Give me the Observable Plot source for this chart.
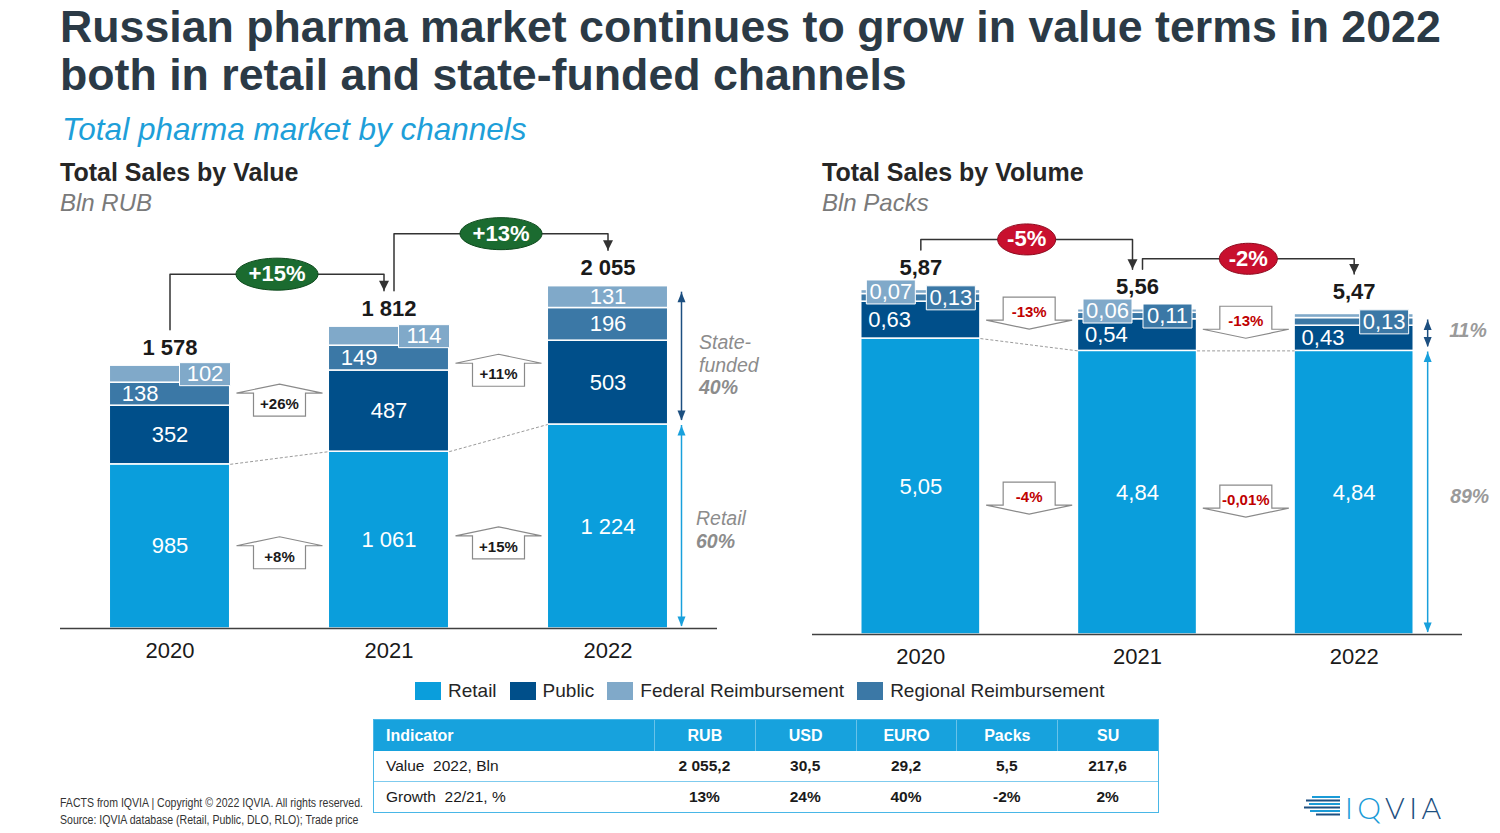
<!DOCTYPE html>
<html>
<head>
<meta charset="utf-8">
<script src="https://cdn.jsdelivr.net/npm/d3@7"></script>
<script src="https://cdn.jsdelivr.net/npm/@observablehq/plot@0.6"></script>
<style>
  html, body { margin: 0; padding: 0; background: #fff; }
  #page { position: relative; width: 1500px; height: 833px; overflow: hidden; font-family: "Liberation Sans", Arial, Helvetica, sans-serif; }
  .abs { position: absolute; white-space: nowrap; }
  #title { left: 60px; top: 3px; font-weight: bold; font-size: 44.7px; line-height: 48px; color: #2b3a46; }
  #subtitle { left: 62px; top: 114px; font-style: italic; font-size: 31.5px; line-height: 31.5px; color: #1e9fd9; }
  .panelTitle { top: 160px; font-weight: bold; font-size: 25px; line-height: 25px; color: #262626; }
  .panelUnit { top: 191px; font-style: italic; font-size: 24px; line-height: 24px; color: #7a7a7a; }
  #legend { left: 415px; top: 682px; display: flex; align-items: center; font-size: 19px; line-height: 18px; color: #262626; }
  #legend .sw { width: 26px; height: 18px; margin-right: 7px; }
  #legend .lb { margin-right: 13px; }
  #tbl { left: 373px; top: 719px; width: 784px; border: 1.5px solid #49b7e7; display: grid; grid-template-columns: 280px repeat(5, 1fr); font-size: 15.5px; color: #1a1a1a; }
  #tbl .c { display: flex; align-items: center; justify-content: center; height: 30px; }
  #tbl .c.first { justify-content: flex-start; padding-left: 12px; }
  #tbl .h { background: #17a2dd; color: #fff; font-weight: bold; font-size: 16px; height: 31px; border-left: 1px solid rgba(255,255,255,0.35); }
  #tbl .h.first { border-left: none; }
  #tbl .b { font-weight: bold; }
  #tbl .r1 { border-bottom: 1px solid #7fcbee; }
  #footer { left: 60px; top: 795px; font-family: "Liberation Sans Narrow", "Arial Narrow", "Liberation Sans", Arial, sans-serif; font-size: 12px; line-height: 17px; color: #333; transform-origin: 0 0; }
  #logoText { left: 1345px; top: 790px; font-family: Lato, "Open Sans", Inter, sans-serif; font-weight: 300; font-size: 30px; line-height: 34px; letter-spacing: 4.5px; }
</style>
</head>
<body>
<div id="page">
  <div id="title" class="abs">Russian pharma market continues to grow in value terms in 2022<br>both in retail and state-funded channels</div>
  <div id="subtitle" class="abs">Total pharma market by channels</div>
  <div class="abs panelTitle" style="left:60px">Total Sales by Value</div>
  <div class="abs panelUnit" style="left:60px">Bln RUB</div>
  <div class="abs panelTitle" style="left:822px">Total Sales by Volume</div>
  <div class="abs panelUnit" style="left:822px">Bln Packs</div>
  <div id="chartValue" class="abs" style="left:0px;top:220px"></div>
  <div id="chartVolume" class="abs" style="left:760px;top:220px"></div>
  <div id="legend" class="abs"></div>
  <div id="tbl" class="abs"></div>
  <div id="footer" class="abs">FACTS from IQVIA | Copyright © 2022 IQVIA. All rights reserved.<br>Source: IQVIA database (Retail, Public, DLO, RLO); Trade price</div>
  <svg class="abs" style="left:1300px;top:790px" width="44" height="34">
    <g stroke-width="2">
      <line x1="12" y1="7" x2="40" y2="7" stroke="#1a9bd7"/>
      <line x1="6" y1="10.5" x2="40" y2="10.5" stroke="#1d4f80"/>
      <line x1="9" y1="14" x2="40" y2="14" stroke="#1a9bd7"/>
      <line x1="4" y1="17.5" x2="40" y2="17.5" stroke="#1d4f80"/>
      <line x1="10" y1="21" x2="40" y2="21" stroke="#1a9bd7"/>
      <line x1="16" y1="24.5" x2="40" y2="24.5" stroke="#1d4f80"/>
    </g>
  </svg>
  <div id="logoText" class="abs"><span style="color:#1a9bd7">IQ</span><span style="color:#1d4f80">VIA</span></div>
</div>
<script>
// ---------------- data ----------------
const years = ["2020", "2021", "2022"];
const legendChannels = ["Retail", "Public", "Federal Reimbursement", "Regional Reimbursement"];
const stackOrder = ["Retail", "Public", "Regional Reimbursement", "Federal Reimbursement"];
const channelColors = ["#0a9edc", "#004f8a", "#3b78a6", "#80a9c9"]; // in stackOrder

// Total sales by value, Bln RUB
const valueRetail = [985, 1061, 1224];
const valuePublic = [352, 487, 503];
const valueRegional = [138, 149, 196];
const valueFederal = [102, 114, 131];
const valueTotals = [1578, 1812, 2055];
const valueTotalGrowth = ["+15%", "+13%"];
const valueStateGrowth = ["+26%", "+11%"];
const valueRetailGrowth = ["+8%", "+15%"];
const valueStateShare = "40%";
const valueRetailShare = "60%";

// Total sales by volume, Bln packs
const volumeRetail = [5.05, 4.84, 4.84];
const volumePublic = [0.63, 0.54, 0.43];
const volumeRegional = [0.13, 0.11, 0.13];
const volumeFederal = [0.07, 0.06, 0.07];
const volumeFederalPrinted = [true, true, false];
const volumeTotals = [5.87, 5.56, 5.47];
const volumeTotalGrowth = ["-5%", "-2%"];
const volumeStateGrowth = ["-13%", "-13%"];
const volumeRetailGrowth = ["-4%", "-0,01%"];
const volumeStateShare = "11%";
const volumeRetailShare = "89%";

// Table
const tableHeader = ["Indicator", "RUB", "USD", "EURO", "Packs", "SU"];
const tableValueRow = ["Value\u00a0 2022, Bln", "2 055,2", "30,5", "29,2", "5,5", "217,6"];
const tableGrowthRow = ["Growth\u00a0 22/21, %", "13%", "24%", "40%", "-2%", "2%"];

// ---------------- helpers ----------------
const FONT = '"Liberation Sans", Arial, Helvetica, sans-serif';
const loc = d3.formatLocale({decimal: ",", thousands: " ", grouping: [3], currency: ["", ""]});
const fmtInt = loc.format(",d");
const fmt2 = loc.format(",.2f");

const symRect = (w, h) => ({draw(c) { c.moveTo(-w/2, -h/2); c.lineTo(w/2, -h/2); c.lineTo(w/2, h/2); c.lineTo(-w/2, h/2); c.closePath(); }});
const symEllipse = (rx, ry) => ({draw(c) {
  const k = 0.5523;
  c.moveTo(rx, 0);
  c.bezierCurveTo(rx, ry*k, rx*k, ry, 0, ry);
  c.bezierCurveTo(-rx*k, ry, -rx, ry*k, -rx, 0);
  c.bezierCurveTo(-rx, -ry*k, -rx*k, -ry, 0, -ry);
  c.bezierCurveTo(rx*k, -ry, rx, -ry*k, rx, 0);
  c.closePath();
}});
// triangle with apex at origin; dir 1 = pointing down, -1 = pointing up
const symTri = (w, h, dir) => ({draw(c) { c.moveTo(0, 0); c.lineTo(w/2, -dir*h); c.lineTo(-w/2, -dir*h); c.closePath(); }});
const symBlockUp = {draw(c) { c.moveTo(0, -20); c.lineTo(43, -11); c.lineTo(26, -11); c.lineTo(26, 12); c.lineTo(-26, 12); c.lineTo(-26, -11); c.lineTo(-43, -11); c.closePath(); }};
const symBlockDown = {draw(c) { c.moveTo(-26, -15); c.lineTo(26, -15); c.lineTo(26, 8); c.lineTo(43, 8); c.lineTo(0, 17); c.lineTo(-43, 8); c.lineTo(-26, 8); c.closePath(); }};

function buildChart(cfg) {
  const {series, totals, fmt, width, height, marginLeft, marginRight, marginBottom, yMax} = cfg;
  const innerH = height - marginBottom;
  const ppu = innerH / yMax;
  const px = p => p / ppu;
  const stepPx = (width - marginLeft - marginRight) / 3;
  const xo = 5 / stepPx;
  const HW = 0.275;

  const rows = [];
  years.forEach((year, i) => {
    let acc = 0;
    stackOrder.forEach(ch => {
      const v = series[ch][i];
      rows.push({i, year, channel: ch, value: v, y1: acc, y2: acc + v, mid: acc + v / 2});
      acc += v;
    });
  });
  const stackTop = years.map((_, i) => d3.sum(rows.filter(r => r.i === i), r => r.value));
  const retailTop = series["Retail"];
  const retailMid = retailTop.map(v => v / 2);
  const stateMid = years.map((_, i) => (retailTop[i] + stackTop[i]) / 2);
  const pairs = [0, 1];
  const last = years.length - 1;

  const brackets = pairs.flatMap(k => {
    const xa = k + (k > 0 ? xo : 0);
    const xb = k + 1 - (k + 1 < last ? xo : 0);
    const level = Math.max(stackTop[k], stackTop[k + 1]) + px(cfg.bracketRise);
    return [
      {k, x: xa, y: stackTop[k] + px(cfg.bracketGap)},
      {k, x: xa, y: level},
      {k, x: xb, y: level},
      {k, x: xb, y: stackTop[k + 1] + px(cfg.bracketGap)}
    ];
  });
  const bracketEnds = brackets.filter((d, j) => j % 4 === 3);
  const growth = pairs.map(k => ({x: (brackets[k*4+1].x + brackets[k*4+2].x) / 2, y: brackets[k*4+1].y, label: cfg.totalGrowth[k]}));
  const stateArrows = pairs.map(k => ({x: k + 0.5, y: (stateMid[k] + stateMid[k+1]) / 2, label: cfg.stateGrowth[k]}));
  const retailArrows = pairs.map(k => ({x: k + 0.5, y: (retailMid[k] + retailMid[k+1]) / 2, label: cfg.retailGrowth[k]}));

  const style = cfg.labelStyle;
  const lbl = d => fmt(d.value);
  const stateSide = [{top: stackTop[last] - px(6), bottom: retailTop[last] + px(4)}];
  const retailSide = [{top: retailTop[last] - px(1), bottom: px(2)}];
  const darkArrow = "#1c4f80", lightArrow = "#18a0dc";

  return Plot.plot({
    width, height, marginTop: 0, marginLeft, marginRight, marginBottom,
    x: {type: "linear", domain: [-0.5, 2.5], axis: null},
    y: {domain: [0, yMax], axis: null},
    color: {domain: stackOrder, range: channelColors},
    style: {fontFamily: FONT, overflow: "visible", background: "transparent"},
    marks: [
      Plot.rect(rows, {x1: d => d.i - HW, x2: d => d.i + HW, y1: "y1", y2: "y2", fill: "channel", stroke: "white", strokeWidth: 1.5}),
      Plot.link(pairs, {x1: k => k + HW, y1: k => retailTop[k], x2: k => k + 1 - HW, y2: k => retailTop[k + 1], stroke: "#9b9b9b", strokeWidth: 1, strokeDasharray: "3,2"}),
      Plot.ruleY([0], {stroke: "#404040", strokeWidth: 1.5}),
      Plot.text(years, {x: (d, i) => i, y: 0, text: d => d, dy: 22, fontSize: 22, fill: "#1a1a1a"}),
      // segment labels
      Plot.text(rows.filter(r => style(r) === "center"), {x: "i", y: "mid", text: lbl, fill: "white", fontSize: 22}),
      Plot.text(rows.filter(r => style(r) === "left"), {x: d => d.i - HW, y: "mid", text: lbl, fill: "white", fontSize: 22, textAnchor: "start", dx: cfg.leftDx}),
      Plot.dot(rows.filter(r => style(r) === "boxA"), {x: "i", y: "mid", dx: cfg.boxA, fill: "channel", stroke: "white", strokeWidth: 1, symbol: symRect(cfg.boxW, cfg.boxH)}),
      Plot.text(rows.filter(r => style(r) === "boxA"), {x: "i", y: "mid", dx: cfg.boxA, text: lbl, fill: "white", fontSize: 22}),
      Plot.dot(rows.filter(r => style(r) === "boxB"), {x: "i", y: "mid", dx: cfg.boxB, fill: "channel", stroke: "white", strokeWidth: 1, symbol: symRect(cfg.boxW, cfg.boxH)}),
      Plot.text(rows.filter(r => style(r) === "boxB"), {x: "i", y: "mid", dx: cfg.boxB, text: lbl, fill: "white", fontSize: 22}),
      // totals
      Plot.text(years, {x: (d, i) => i, y: (d, i) => stackTop[i], text: (d, i) => fmt(totals[i]), dy: cfg.totalDy, fontWeight: "bold", fontSize: 22, fill: "#1a1a1a"}),
      // growth brackets
      Plot.line(brackets, {x: "x", y: "y", z: "k", stroke: "#333", strokeWidth: 1.5}),
      Plot.dot(bracketEnds, {x: "x", y: "y", fill: "#333", symbol: symTri(10, 10, 1)}),
      Plot.dot(growth, {x: "x", y: "y", fill: cfg.growthFill, stroke: cfg.growthStroke, strokeWidth: 1, symbol: symEllipse(cfg.rx, cfg.ry)}),
      Plot.text(growth, {x: "x", y: "y", text: "label", fill: "white", fontWeight: "bold", fontSize: 22}),
      // block arrows
      Plot.dot(stateArrows, {x: "x", y: "y", dy: cfg.stateDy, fill: "white", stroke: "#8a8a8a", strokeWidth: 1.2, symbol: cfg.block}),
      Plot.text(stateArrows, {x: "x", y: "y", dy: cfg.stateDy, text: "label", fill: cfg.arrowText, fontWeight: "bold", fontSize: 15}),
      Plot.dot(retailArrows, {x: "x", y: "y", dy: cfg.retailDy, fill: "white", stroke: "#8a8a8a", strokeWidth: 1.2, symbol: cfg.block}),
      Plot.text(retailArrows, {x: "x", y: "y", dy: cfg.retailDy, text: "label", fill: cfg.arrowText, fontWeight: "bold", fontSize: 15}),
      // side share arrows
      Plot.ruleX(stateSide, {x: () => last, y1: "bottom", y2: "top", dx: cfg.sideDx, stroke: darkArrow, strokeWidth: 1.5}),
      Plot.dot(stateSide, {x: () => last, y: "top", dx: cfg.sideDx, fill: darkArrow, symbol: symTri(8, 10, -1)}),
      Plot.dot(stateSide, {x: () => last, y: "bottom", dx: cfg.sideDx, fill: darkArrow, symbol: symTri(8, 10, 1)}),
      Plot.ruleX(retailSide, {x: () => last, y1: "bottom", y2: "top", dx: cfg.sideDx, stroke: lightArrow, strokeWidth: 1.5}),
      Plot.dot(retailSide, {x: () => last, y: "top", dx: cfg.sideDx, fill: lightArrow, symbol: symTri(8, 10, -1)}),
      Plot.dot(retailSide, {x: () => last, y: "bottom", dx: cfg.sideDx, fill: lightArrow, symbol: symTri(8, 10, 1)}),
      ...cfg.sideTexts({stateY: stateMid[last], retailY: retailMid[last], last})
    ]
  });
}

// ---------------- value chart ----------------
const valueChart = buildChart({
  series: {"Retail": valueRetail, "Public": valuePublic, "Regional Reimbursement": valueRegional, "Federal Reimbursement": valueFederal},
  totals: valueTotals, fmt: fmtInt,
  width: 780, height: 460, marginLeft: 60, marginRight: 63, marginBottom: 52, yMax: 2448,
  totalDy: -18, bracketGap: 36, bracketRise: 52.5,
  totalGrowth: valueTotalGrowth, stateGrowth: valueStateGrowth, retailGrowth: valueRetailGrowth,
  growthFill: "#1b6b30", growthStroke: "#0e4a1d", rx: 41, ry: 16,
  block: symBlockUp, arrowText: "#1a1a1a", stateDy: 2, retailDy: 13.5,
  leftDx: 12, boxA: 35, boxB: 35, boxW: 51, boxH: 23,
  labelStyle: r => {
    if (r.channel === "Regional Reimbursement" && r.i < 2) return "left";
    if (r.channel === "Federal Reimbursement" && r.i < 2) return "boxA";
    return "center";
  },
  sideDx: 73.5,
  sideTexts: ({stateY, retailY, last}) => [
    Plot.text(["State-\nfunded"], {x: () => last, y: () => stateY, text: d => d, dx: 91, dy: -2, textAnchor: "start", fontStyle: "italic", fontSize: 19.5, lineHeight: 1.18, fill: "#8c8c8c"}),
    Plot.text([valueStateShare], {x: () => last, y: () => stateY, text: d => d, dx: 91, dy: 32, textAnchor: "start", fontStyle: "italic", fontWeight: "bold", fontSize: 19.5, fill: "#8c8c8c"}),
    Plot.text(["Retail"], {x: () => last, y: () => retailY, text: d => d, dx: 88, dy: -8, textAnchor: "start", fontStyle: "italic", fontSize: 19.5, fill: "#8c8c8c"}),
    Plot.text([valueRetailShare], {x: () => last, y: () => retailY, text: d => d, dx: 88, dy: 15, textAnchor: "start", fontStyle: "italic", fontWeight: "bold", fontSize: 19.5, fill: "#8c8c8c"})
  ]
});
document.getElementById("chartValue").append(valueChart);

// ---------------- volume chart ----------------
const volumeChart = buildChart({
  series: {"Retail": volumeRetail, "Public": volumePublic, "Regional Reimbursement": volumeRegional, "Federal Reimbursement": volumeFederal},
  totals: volumeTotals, fmt: fmt2,
  width: 740, height: 460, marginLeft: 52, marginRight: 38, marginBottom: 46, yMax: 414 / 58.6,
  totalDy: -22, bracketGap: 40, bracketRise: 50.5,
  totalGrowth: volumeTotalGrowth, stateGrowth: volumeStateGrowth, retailGrowth: volumeRetailGrowth,
  growthFill: "#c8102e", growthStroke: "#8e0b1f", rx: 29, ry: 15.5,
  block: symBlockDown, arrowText: "#c00000", stateDy: -10, retailDy: 7.5,
  leftDx: 7, boxA: -30, boxB: 30, boxW: 49, boxH: 24,
  labelStyle: r => {
    if (r.channel === "Public") return "left";
    if (r.channel === "Federal Reimbursement") return volumeFederalPrinted[r.i] ? "boxA" : null;
    if (r.channel === "Regional Reimbursement") return "boxB";
    return "center";
  },
  sideDx: 73.5,
  sideTexts: ({stateY, retailY, last}) => [
    Plot.text([volumeStateShare], {x: () => last, y: () => stateY, text: d => d, dx: 95, dy: -2, textAnchor: "start", fontStyle: "italic", fontWeight: "bold", fontSize: 19.5, fill: "#9a9a9a"}),
    Plot.text([volumeRetailShare], {x: () => last, y: () => retailY, text: d => d, dx: 96, dy: 4, textAnchor: "start", fontStyle: "italic", fontWeight: "bold", fontSize: 19.5, fill: "#9a9a9a"})
  ]
});
document.getElementById("chartVolume").append(volumeChart);

// ---------------- legend ----------------
const legend = document.getElementById("legend");
legendChannels.forEach(ch => {
  const sw = document.createElement("div");
  sw.className = "sw";
  sw.style.background = channelColors[stackOrder.indexOf(ch)];
  const lb = document.createElement("div");
  lb.className = "lb";
  lb.textContent = ch;
  legend.append(sw, lb);
});

// ---------------- table ----------------
const tbl = document.getElementById("tbl");
tableHeader.forEach((t, j) => {
  const c = document.createElement("div");
  c.className = "c h" + (j === 0 ? " first" : "");
  c.textContent = t;
  tbl.append(c);
});
[tableValueRow, tableGrowthRow].forEach((row, ri) => {
  row.forEach((t, j) => {
    const c = document.createElement("div");
    c.className = "c" + (j === 0 ? " first" : " b") + (ri === 0 ? " r1" : "");
    c.textContent = t;
    tbl.append(c);
  });
});

// footer: fit narrow text width
const footer = document.getElementById("footer");
const fw = footer.getBoundingClientRect().width;
if (fw > 310) footer.style.transform = `scaleX(${303 / fw})`;
</script>
</body>
</html>
